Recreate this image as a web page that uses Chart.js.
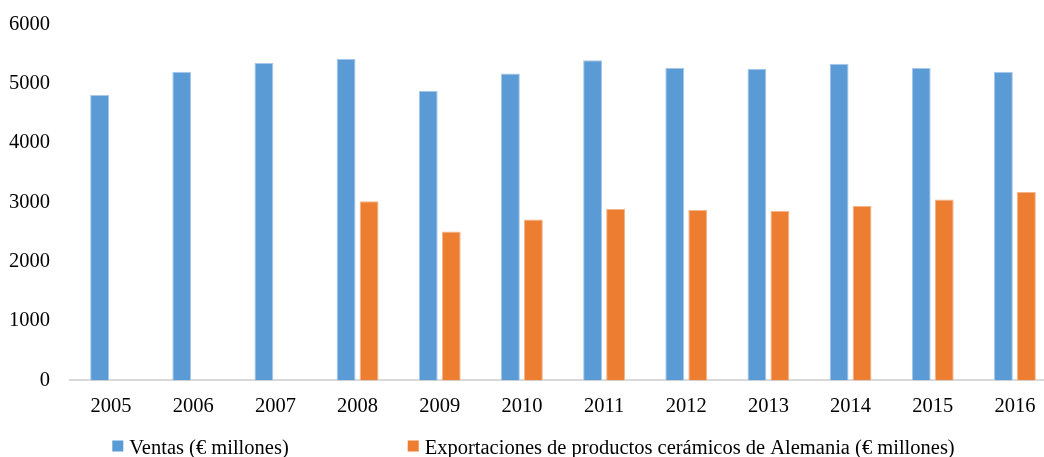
<!DOCTYPE html>
<html>
<head>
<meta charset="utf-8">
<script src="https://cdn.jsdelivr.net/npm/chart.js@4.4.1/dist/chart.umd.min.js"></script>
<style>
  html, body { margin: 0; padding: 0; background: #ffffff; overflow: hidden; }
  #wrap { position: relative; width: 1060px; height: 457px; }
</style>
</head>
<body>
<div id="wrap"><canvas id="chart"></canvas></div>
<script>
// Years on the category axis
const years = ['2005', '2006', '2007', '2008', '2009', '2010', '2011', '2012', '2013', '2014', '2015', '2016'];

// Sales, € millions
const ventas = [4810, 5200, 5350, 5420, 4880, 5170, 5395, 5270, 5250, 5335, 5265, 5200];

// German ceramic product exports, € millions (no data before 2008)
const exportaciones = [null, null, null, 3020, 2510, 2710, 2890, 2870, 2860, 2940, 3050, 3175];

// Value axis ticks
const yTicks = [0, 1000, 2000, 3000, 4000, 5000, 6000];

const seriesNames = ['Ventas (€ millones)', 'Exportaciones de productos cerámicos de Alemania (€ millones)'];

const FONT = 'Liberation Serif, Times New Roman, serif';
const FONT_SIZE = 20.5;

// Legend drawn along the bottom edge, items spread apart
const bottomLegend = {
  id: 'bottomLegend',
  afterDraw(chart) {
    const ctx = chart.ctx;
    ctx.save();
    ctx.font = FONT_SIZE + 'px ' + FONT;
    const box = 11, textGap = 6, itemGap = 119;
    const items = chart.data.datasets.map(ds => ({
      text: ds.label,
      color: ds.backgroundColor,
      w: ctx.measureText(ds.label).width
    }));
    const total = items.reduce((s, it) => s + box + textGap + it.w, 0) + itemGap * (items.length - 1);
    let x = 533.5 - total / 2;
    const boxTop = 440.5;
    const baseline = 454;
    items.forEach(it => {
      ctx.fillStyle = it.color;
      ctx.fillRect(x, boxTop, box, box);
      x += box + textGap;
      ctx.fillStyle = '#000000';
      ctx.textBaseline = 'alphabetic';
      ctx.textAlign = 'left';
      ctx.fillText(it.text, x, baseline);
      x += it.w + itemGap;
    });
    ctx.restore();
  }
};

new Chart(document.getElementById('chart'), {
  type: 'bar',
  data: {
    labels: years,
    datasets: [
      {
        label: seriesNames[0],
        data: ventas,
        backgroundColor: '#5B9BD5',
        borderColor: '#A8C8EA',
        borderWidth: 1,
        categoryPercentage: 0.56,
        barPercentage: 0.82
      },
      {
        label: seriesNames[1],
        data: exportaciones,
        backgroundColor: '#ED7D31',
        borderColor: '#F5B58A',
        borderWidth: 1,
        categoryPercentage: 0.56,
        barPercentage: 0.82
      }
    ]
  },
  options: {
    responsive: true,
    maintainAspectRatio: false,
    animation: false,
    devicePixelRatio: 1,
    layout: { padding: { top: 5, left: -3, right: 4, bottom: 32 } },
    plugins: {
      legend: { display: false },
      tooltip: { enabled: false }
    },
    scales: {
      x: {
        grid: { display: false },
        border: { display: true, color: '#D9D9D9', width: 2 },
        ticks: {
          color: '#000000',
          padding: 6,
          font: { family: FONT, size: FONT_SIZE },
          maxRotation: 0
        }
      },
      y: {
        min: 0,
        max: 6000,
        grid: { display: false },
        border: { display: false },
        afterBuildTicks(axis) {
          axis.ticks = yTicks.map(v => ({ value: v }));
        },
        ticks: {
          color: '#000000',
          padding: 12,
          font: { family: FONT, size: FONT_SIZE },
          callback: v => String(v)
        }
      }
    }
  },
  plugins: [bottomLegend]
});
</script>
</body>
</html>
